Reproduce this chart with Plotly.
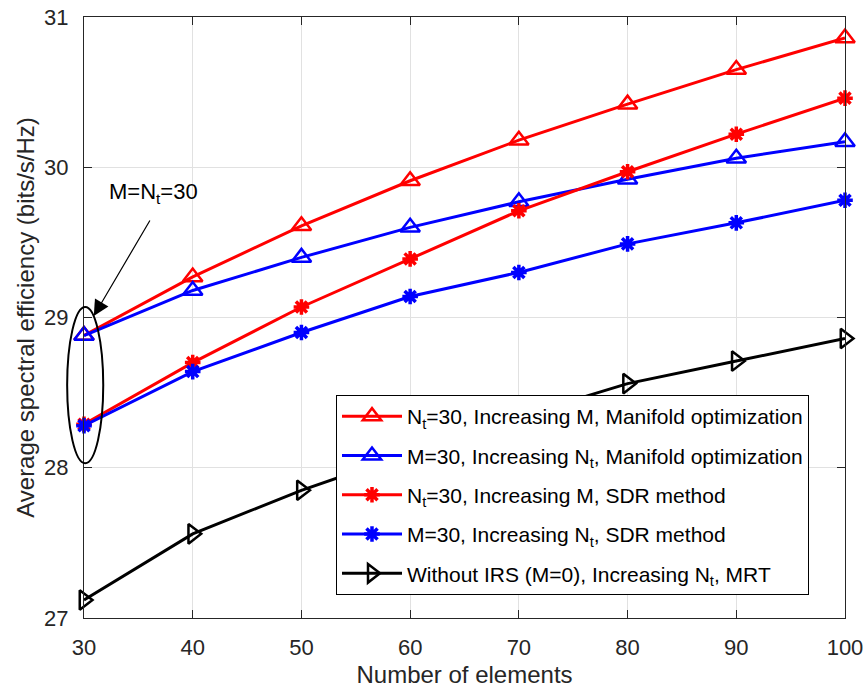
import plotly.graph_objects as go

# Number of elements (M or N_t)
elements = [30, 40, 50, 60, 70, 80, 90, 100]

# Average spectral efficiency (bits/s/Hz)
nt30_manifold = [28.88, 29.27, 29.61, 29.91, 30.18, 30.42, 30.65, 30.86]
m30_manifold = [28.88, 29.18, 29.40, 29.60, 29.77, 29.92, 30.06, 30.17]
nt30_sdr = [28.29, 28.70, 29.07, 29.39, 29.71, 29.97, 30.22, 30.46]
m30_sdr = [28.28, 28.64, 28.90, 29.14, 29.30, 29.49, 29.63, 29.78]
no_irs_mrt = [27.12, 27.56, 27.85, 28.10, 28.34, 28.56, 28.71, 28.86]

x_ticks = [30, 40, 50, 60, 70, 80, 90, 100]
y_ticks = [27, 28, 29, 30, 31]
x_range = [30, 100]
y_range = [27, 31]

FONT = "Liberation Sans, Arial, Helvetica, sans-serif"
DARK = "#262626"

series = [
    ("N<sub>t</sub>=30, Increasing M, Manifold optimization", nt30_manifold,
     "#ff0000", "triangle-up-open", 17),
    ("M=30, Increasing N<sub>t</sub>, Manifold optimization", m30_manifold,
     "#0000ff", "triangle-up-open", 17),
    ("N<sub>t</sub>=30, Increasing M, SDR method", nt30_sdr,
     "#ff0000", "asterisk-open", 13),
    ("M=30, Increasing N<sub>t</sub>, SDR method", m30_sdr,
     "#0000ff", "asterisk-open", 13),
    ("Without IRS (M=0), Increasing N<sub>t</sub>, MRT", no_irs_mrt,
     "#000000", "triangle-right-open", 17),
]

fig = go.Figure()
for i, (name, values, color, symbol, size) in enumerate(series):
    fig.add_trace(go.Scatter(
        x=elements, y=values, name=name, mode="lines+markers",
        legendgroup=f"g{i}",
        line=dict(color=color, width=3),
        marker=dict(symbol=symbol, size=size, color=color,
                    line=dict(color=color, width=3.5 if "asterisk" in symbol else 2.5)),
        cliponaxis=False,
    ))

axis_common = dict(
    showline=True, linecolor=DARK, linewidth=1, mirror="ticks",
    ticks="inside", ticklen=8, tickcolor=DARK, tickwidth=1,
    showgrid=True, gridcolor="#e1e1e1", gridwidth=1,
    zeroline=False, automargin=False,
    tickfont=dict(family=FONT, size=22, color=DARK),
)

fig.update_xaxes(
    range=x_range, tickvals=x_ticks, ticklabelstandoff=10,
    title=dict(text="Number of elements", standoff=8,
               font=dict(family=FONT, size=24, color=DARK)),
    **axis_common,
)
fig.update_yaxes(
    range=y_range, tickvals=y_ticks, ticklabelstandoff=10,
    title=dict(text="Average spectral efficiency (bits/s/Hz)", standoff=2,
               font=dict(family=FONT, size=24, color=DARK)),
    **axis_common,
)

# Ellipse around the common starting point M = N_t = 30
ell_x = [28.45, 31.77]
ell_y = [28.03, 29.07]
fig.add_shape(
    type="circle", xref="x domain", yref="y domain",
    x0=(ell_x[0] - x_range[0]) / (x_range[1] - x_range[0]),
    x1=(ell_x[1] - x_range[0]) / (x_range[1] - x_range[0]),
    y0=(ell_y[0] - y_range[0]) / (y_range[1] - y_range[0]),
    y1=(ell_y[1] - y_range[0]) / (y_range[1] - y_range[0]),
    line=dict(color="black", width=2), layer="above",
)

# Label and arrow pointing at the ellipse
fig.add_annotation(
    x=36.4, y=29.83, xref="x", yref="y", showarrow=False,
    text="M=N<sub>t</sub>=30",
    font=dict(family=FONT, size=22, color="black"),
)
fig.add_annotation(
    x=30.9, y=29.01, xref="x", yref="y", text="",
    showarrow=True, ax=57, ay=-97, axref="pixel", ayref="pixel",
    arrowhead=2, arrowsize=2.6, arrowwidth=1.2, arrowcolor="black",
)

fig.update_layout(
    width=864, height=688,
    margin=dict(l=84, r=19, t=17, b=70, autoexpand=False),
    paper_bgcolor="white", plot_bgcolor="white",
    font=dict(family=FONT, color=DARK),
    legend=dict(
        x=(336 - 84) / 761, y=(618 - 395) / 601,
        xanchor="left", yanchor="top",
        bgcolor="white", bordercolor="black", borderwidth=1,
        font=dict(family=FONT, size=21, color="black"),
        tracegroupgap=9, itemwidth=60,
        traceorder="grouped",
    ),
    showlegend=True,
)

fig.write_html("out.html")
